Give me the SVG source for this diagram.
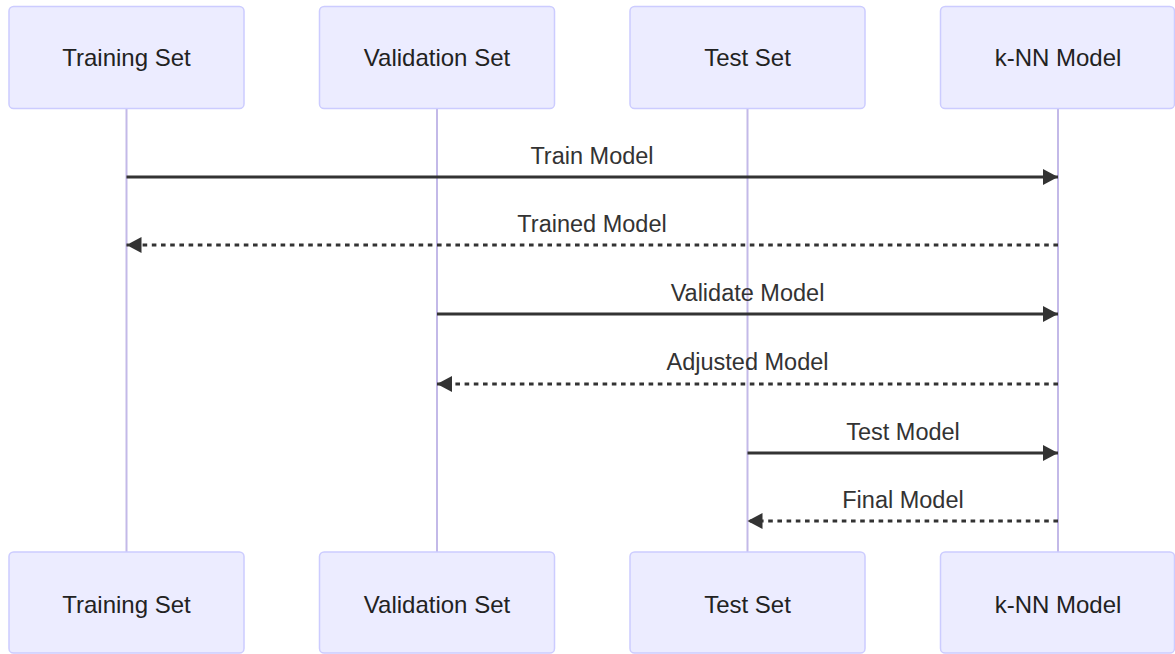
<svg xmlns="http://www.w3.org/2000/svg" width="1175" height="654" viewBox="0 0 1175 654">
<style>
.actor{fill:#ECECFF;stroke:#CCCCFF;stroke-width:1.5}
.atext{font-family:"Liberation Sans",Arial,sans-serif;font-size:24px;fill:#222;text-anchor:middle}
.life{stroke:#C3B9E8;stroke-width:2}
.msg{stroke:#333;stroke-width:3;fill:none}
.dash{stroke-dasharray:4.6,4.6}
.mtext{font-family:"Liberation Sans",Arial,sans-serif;font-size:23.5px;fill:#333;text-anchor:middle}
</style>
<defs>
<marker id="ah" markerUnits="userSpaceOnUse" markerWidth="16" markerHeight="17" refX="15" refY="8" orient="auto">
<path d="M0,0 L15,8 L0,16 Z" fill="#333"/>
</marker>
</defs>
<g id="lifelines">
<line class="life" x1="126.5" y1="109" x2="126.5" y2="552"/>
<line class="life" x1="437" y1="109" x2="437" y2="552"/>
<line class="life" x1="747.5" y1="109" x2="747.5" y2="552"/>
<line class="life" x1="1058" y1="109" x2="1058" y2="552"/>
</g>
<g id="actor-training-top"><rect class="actor" x="9" y="6.5" width="235" height="102" rx="4.6"/><text class="atext" x="126.5" y="66">Training Set</text></g>
<g id="actor-validation-top"><rect class="actor" x="319.5" y="6.5" width="235" height="102" rx="4.6"/><text class="atext" x="437" y="66">Validation Set</text></g>
<g id="actor-test-top"><rect class="actor" x="630" y="6.5" width="235" height="102" rx="4.6"/><text class="atext" x="747.5" y="66">Test Set</text></g>
<g id="actor-knn-top"><rect class="actor" x="940.5" y="6.5" width="234" height="102" rx="4.6"/><text class="atext" x="1058" y="66">k-NN Model</text></g>
<g id="actor-training-bottom"><rect class="actor" x="9" y="552" width="235" height="101" rx="4.6"/><text class="atext" x="126.5" y="613">Training Set</text></g>
<g id="actor-validation-bottom"><rect class="actor" x="319.5" y="552" width="235" height="101" rx="4.6"/><text class="atext" x="437" y="613">Validation Set</text></g>
<g id="actor-test-bottom"><rect class="actor" x="630" y="552" width="235" height="101" rx="4.6"/><text class="atext" x="747.5" y="613">Test Set</text></g>
<g id="actor-knn-bottom"><rect class="actor" x="940.5" y="552" width="234" height="101" rx="4.6"/><text class="atext" x="1058" y="613">k-NN Model</text></g>
<g id="messages">
<line class="msg" x1="126.5" y1="177" x2="1058" y2="177" marker-end="url(#ah)"/>
<text class="mtext" x="592" y="164">Train Model</text>
<line class="msg dash" x1="1058" y1="245" x2="126.5" y2="245" marker-end="url(#ah)"/>
<text class="mtext" x="592" y="232">Trained Model</text>
<line class="msg" x1="437" y1="314" x2="1058" y2="314" marker-end="url(#ah)"/>
<text class="mtext" x="747.5" y="301">Validate Model</text>
<line class="msg dash" x1="1058" y1="384" x2="437" y2="384" marker-end="url(#ah)"/>
<text class="mtext" x="747.5" y="370">Adjusted Model</text>
<line class="msg" x1="747.5" y1="453" x2="1058" y2="453" marker-end="url(#ah)"/>
<text class="mtext" x="903" y="440">Test Model</text>
<line class="msg dash" x1="1058" y1="521" x2="747.5" y2="521" marker-end="url(#ah)"/>
<text class="mtext" x="903" y="508">Final Model</text>
</g>
</svg>
